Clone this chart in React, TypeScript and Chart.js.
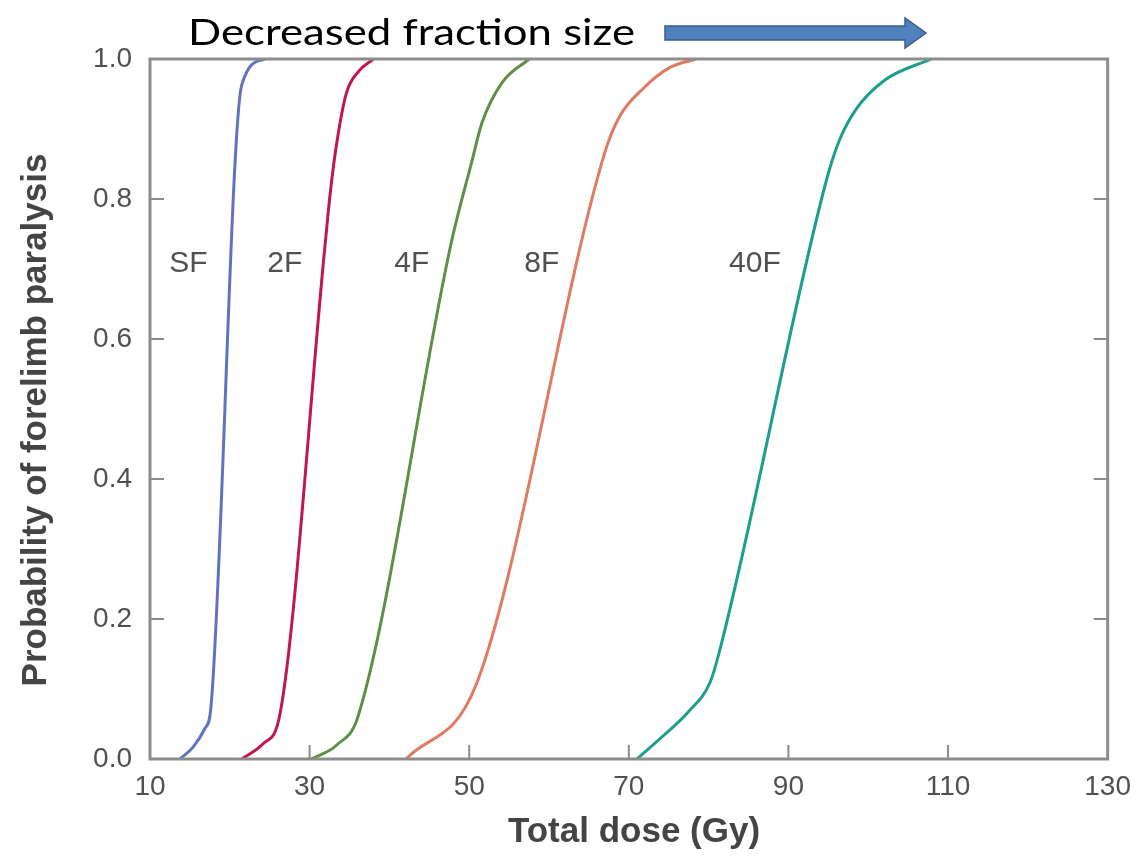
import React, { useEffect, useRef } from 'react';
import { Chart, registerables } from 'chart.js';

Chart.register(...registerables);

// ---- Data ----
const seriesNames = ['SF', '2F', '4F', '8F', '40F'];

const sfDose = [13.75, 15.4, 16.9, 17.6, 21.5, 24.4];
const sfProb = [0, 0.017, 0.044, 0.07, 0.963, 1.0];

const f2Dose = [21.5, 24.2, 26.3, 31.9, 32.6, 33.4, 34.6, 36.2, 38.0];
const f2Prob = [0, 0.022, 0.065, 0.73, 0.81, 0.88, 0.951, 0.983, 1.0];

const f4Dose = [30.25, 33.4, 36.1, 47.8, 50.25, 51.6, 54.1, 57.5];
const f4Prob = [0, 0.02, 0.062, 0.74, 0.85, 0.909, 0.966, 1.0];

const f8Dose = [42.1, 51.0, 66.9, 68.75, 71.9, 75.0, 78.4];
const f8Prob = [0, 0.11, 0.863, 0.916, 0.959, 0.987, 1.0];

const f40Dose = [71.0, 74.0, 77.5, 80.2, 81.5, 94.6, 96.25, 98.4, 102.1, 107.9];
const f40Prob = [0, 0.03, 0.068, 0.11, 0.16, 0.82, 0.88, 0.927, 0.97, 1.0];

const seriesColors = ['#6272c2', '#c0184c', '#5f8f45', '#e07a60', '#1b9e8c'];

const labelDose = [14.8, 26.9, 42.8, 59.1, 85.8];
const labelProb = [0.707, 0.707, 0.707, 0.707, 0.707];

const xMin = 10;
const xMax = 130;
const xStep = 20;
const yMin = 0;
const yMax = 1;
const yStep = 0.2;
const innerXTicks = [30, 50, 70, 90, 110];
const innerYTicks = [0.2, 0.4, 0.6, 0.8];

const xTitle = 'Total dose (Gy)';
const yTitle = 'Probability of forelimb paralysis';
const headerText = 'Decreased fraction size';

const allDose = [sfDose, f2Dose, f4Dose, f8Dose, f40Dose];
const allProb = [sfProb, f2Prob, f4Prob, f8Prob, f40Prob];

const FRAME = '#8c8c8c';
const TICKFONT = '"Liberation Sans", Arial, sans-serif';

const overlayPlugin = {
  id: 'overlay',
  afterDatasetsDraw(chart: any) {
    const { ctx, chartArea, scales } = chart;
    const xs = scales.x;
    const ys = scales.y;
    ctx.save();
    // frame
    ctx.strokeStyle = FRAME;
    ctx.lineWidth = 3;
    ctx.strokeRect(chartArea.left, chartArea.top, chartArea.right - chartArea.left, chartArea.bottom - chartArea.top);
    // inward ticks
    ctx.lineWidth = 2;
    const tl = 14;
    innerXTicks.forEach((v) => {
      const px = xs.getPixelForValue(v);
      ctx.beginPath();
      ctx.moveTo(px, chartArea.bottom);
      ctx.lineTo(px, chartArea.bottom - tl);
      ctx.stroke();
    });
    innerYTicks.forEach((v) => {
      const py = ys.getPixelForValue(v);
      ctx.beginPath();
      ctx.moveTo(chartArea.left, py);
      ctx.lineTo(chartArea.left + tl, py);
      ctx.moveTo(chartArea.right, py);
      ctx.lineTo(chartArea.right - tl, py);
      ctx.stroke();
    });
    // curve labels
    ctx.fillStyle = '#505050';
    ctx.font = '30px ' + TICKFONT;
    ctx.textAlign = 'center';
    ctx.textBaseline = 'middle';
    seriesNames.forEach((n, i) => {
      ctx.fillText(n, xs.getPixelForValue(labelDose[i]), ys.getPixelForValue(labelProb[i]));
    });
    // axis titles
    ctx.fillStyle = '#444444';
    ctx.font = 'bold 35px ' + TICKFONT;
    ctx.fillText(xTitle, 634, 832);
    ctx.save();
    ctx.translate(36, 420);
    ctx.rotate(-Math.PI / 2);
    ctx.fillText(yTitle, 0, 0);
    ctx.restore();
    // header text
    ctx.fillStyle = '#000000';
    ctx.font = '36px Lato, "Open Sans", sans-serif';
    ctx.textAlign = 'left';
    ctx.textBaseline = 'alphabetic';
    const w = ctx.measureText(headerText).width;
    const target = 447;
    ctx.save();
    ctx.translate(188, 45);
    ctx.scale(target / w, 1);
    ctx.fillText(headerText, 0, 0);
    ctx.restore();
    // arrow
    const cy = 33;
    ctx.beginPath();
    ctx.moveTo(665, cy - 7);
    ctx.lineTo(905, cy - 7);
    ctx.lineTo(905, cy - 15);
    ctx.lineTo(926, cy);
    ctx.lineTo(905, cy + 15);
    ctx.lineTo(905, cy + 7);
    ctx.lineTo(665, cy + 7);
    ctx.closePath();
    ctx.fillStyle = '#4f81bd';
    ctx.fill();
    ctx.strokeStyle = '#385d8a';
    ctx.lineWidth = 1.5;
    ctx.stroke();
    ctx.restore();
  },
};

export default function App() {
  const ref = useRef<HTMLCanvasElement>(null);
  useEffect(() => {
    if (!ref.current) return;
    const datasets = seriesNames.map((n, i) => ({
      label: n,
      data: allDose[i].map((d, j) => ({ x: d, y: allProb[i][j] })),
      borderColor: seriesColors[i],
      backgroundColor: seriesColors[i],
      borderWidth: 3,
      pointRadius: 0,
      showLine: true,
      cubicInterpolationMode: 'monotone' as const,
      fill: false,
    }));
    const chart = new Chart(ref.current, {
      type: 'scatter',
      data: { datasets },
      options: {
        animation: false,
        responsive: false,
        layout: { padding: { left: 0, top: 59, right: 32, bottom: 0 } },
        plugins: { legend: { display: false }, tooltip: { enabled: false }, title: { display: false } },
        scales: {
          x: {
            type: 'linear',
            min: xMin,
            max: xMax,
            grid: { display: false, drawTicks: false },
            border: { display: false },
            ticks: {
              stepSize: xStep,
              autoSkip: false,
              maxRotation: 0,
              padding: 11,
              color: '#505050',
              font: { family: TICKFONT, size: 28 },
            },
            afterFit: (s: any) => { s.height = 102; },
          },
          y: {
            type: 'linear',
            min: yMin,
            max: yMax,
            grid: { display: false, drawTicks: false },
            border: { display: false },
            ticks: {
              stepSize: yStep,
              padding: 18,
              color: '#505050',
              font: { family: TICKFONT, size: 28 },
              callback: (v: any) => Number(v).toFixed(1),
            },
            afterFit: (s: any) => { s.width = 150; },
          },
        },
      },
      plugins: [overlayPlugin],
    });
    return () => chart.destroy();
  }, []);
  return (
    <div style={{ position: 'absolute', left: 0, top: 0, width: 1142, height: 861, background: '#fff' }}>
      <canvas ref={ref} width={1142} height={861} style={{ display: 'block' }} />
    </div>
  );
}
